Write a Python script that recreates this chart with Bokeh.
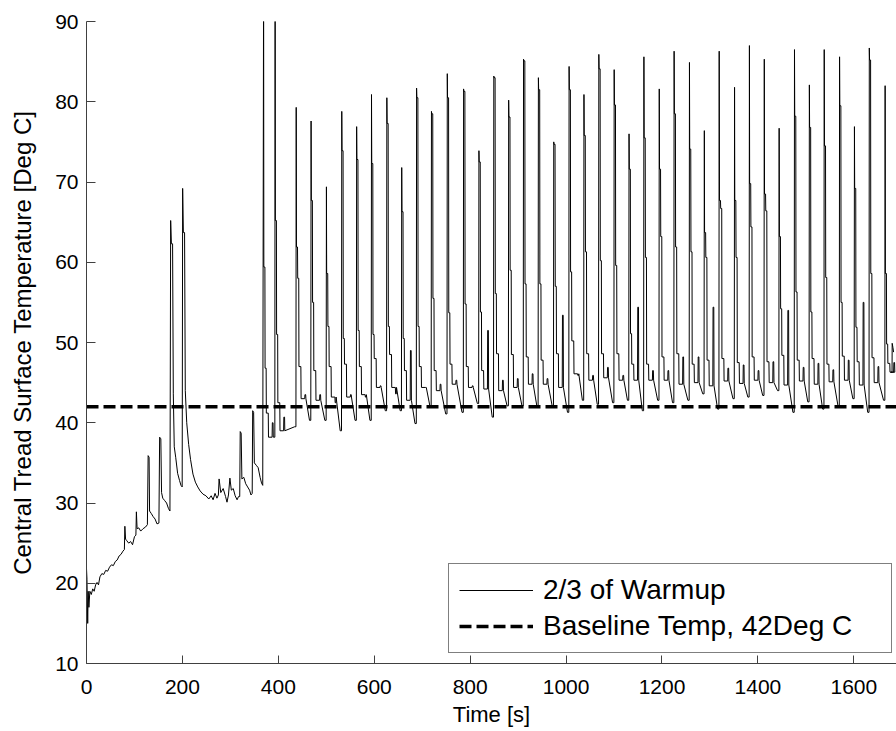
from bokeh.plotting import figure
from bokeh.models import Range1d, Legend, LegendItem, FixedTicker
from bokeh.embed import file_html
from bokeh.resources import INLINE

# ---------------- data ----------------
# warm-up part before the regular cycles (time [s], temperature [deg C])
early_time = [0, 1, 2.5, 3.5, 5, 7, 10, 13, 16, 19,
              22, 25, 28, 32, 36, 40, 44, 48, 52, 56,
              60, 64, 68, 72, 76, 79, 80, 81.5, 84, 88,
              92, 96, 100, 103, 104, 105.5, 109, 113, 118, 123,
              127, 128.5, 130.5, 131.5, 135, 139, 143, 147, 151, 152.5,
              155, 156.5, 159, 163, 167, 171, 174, 175.5, 177, 179.5,
              181, 183, 186, 190, 194, 197, 199.5, 200.5, 202, 204.5,
              206, 209, 213, 217, 222, 227, 232, 237, 243, 249,
              255, 260, 264, 268, 272, 275, 276.5, 280, 285, 290,
              293, 296, 299, 302, 306, 310, 314, 317, 319.5, 320.5,
              322.5, 324, 328, 332, 336, 340, 343, 345.5, 346.5, 348.5,
              350, 354, 358, 362, 365, 367.5]
early_temp = [21.8, 20.5, 15.0, 19.0, 17.0, 19.0, 18.6, 19.3, 19.0, 19.8,
              20.1, 19.8, 20.8, 21.2, 21.1, 21.6, 21.5, 22.0, 22.3, 22.2,
              22.7, 22.9, 23.4, 23.6, 24.0, 24.2, 27.1, 25.5, 25.3, 25.0,
              25.2, 24.8, 25.8, 26.0, 28.9, 26.8, 26.9, 26.5, 26.8, 27.0,
              27.3, 35.9, 35.7, 29.0, 28.7, 28.3, 28.0, 27.4, 27.5, 38.2,
              38.0, 31.3, 30.6, 30.3, 30.0, 29.3, 29.0, 65.2, 62.3, 62.3,
              43.6, 37.0, 35.7, 33.7, 32.8, 32.2, 32.0, 69.2, 63.7, 63.7,
              44.0, 40.0, 37.3, 35.4, 33.6, 32.6, 32.0, 31.5, 31.1, 30.9,
              30.5, 30.9, 30.4, 31.2, 30.6, 31.0, 33.0, 31.3, 31.8, 30.8,
              30.1, 31.0, 33.1, 31.6, 31.8, 30.9, 30.4, 30.8, 30.8, 38.9,
              38.7, 33.0, 33.2, 32.4, 32.0, 31.6, 31.0, 31.2, 41.5, 41.3,
              35.0, 34.7, 34.4, 33.2, 32.5, 32.2]

# regular spike cycles: start time, peak, first knee, next step, mid level,
# low level, small sub-spike, minimum just before the next spike
spike_time = [369, 393, 437, 468, 500, 532, 563, 594, 626, 657,
              688, 719, 752, 786, 818, 849, 880, 911, 942, 974,
              1006, 1037, 1068, 1100, 1131, 1162, 1194, 1225, 1257, 1288,
              1319, 1351, 1382, 1413, 1444, 1476, 1507, 1538, 1570, 1601,
              1632, 1665]
spike_peak = [97.0, 97.0, 79.3, 77.6, 69.4, 78.8, 76.9, 80.9, 80.5, 71.8,
              81.7, 78.8, 83.5, 81.6, 73.9, 83.2, 80.2, 85.3, 83.0, 75.0,
              84.4, 80.9, 85.9, 84.0, 76.0, 85.6, 81.6, 86.3, 84.9, 76.4,
              86.3, 81.8, 87.0, 85.3, 76.7, 86.5, 82.1, 86.5, 85.6, 76.9,
              86.7, 82.0]
spike_knee = [59.4, 65.2, 61.9, 67.7, 58.6, 73.9, 72.8, 72.3, 77.3, 66.3,
              80.5, 78.5, 80.5, 81.3, 72.5, 83.0, 78.1, 85.1, 81.5, 74.7,
              81.5, 75.8, 84.1, 79.6, 71.6, 75.5, 71.6, 78.5, 74.1, 63.7,
              67.7, 67.7, 69.8, 68.5, 63.2, 78.2, 76.8, 74.5, 79.5, 69.2,
              85.2, 58.6]
spike_step = [46.8, 51.0, 58.0, 55.0, 52.0, 50.5, 51.5, 51.0, 52.0, 50.5,
              52.0, 55.5, 53.7, 54.8, 53.8, 56.1, 59.0, 57.3, 57.3, 57.0,
              58.8, 61.3, 60.2, 59.6, 51.1, 60.6, 63.2, 61.9, 61.3, 60.6,
              66.7, 60.6, 64.4, 66.4, 54.2, 56.3, 53.8, 58.1, 55.0, 51.9,
              58.6, 49.8]
cycle_mid = [41.2, 42.5, 47.0, 46.5, 47.0, 47.3, 47.0, 48.0, 48.5, 46.5,
             47.0, 46.5, 47.3, 47.0, 46.5, 48.6, 48.5, 48.2, 47.8, 48.6,
             50.2, 48.6, 48.6, 48.6, 47.3, 47.3, 48.2, 48.6, 47.3, 47.8,
             48.0, 47.5, 48.2, 47.6, 48.4, 47.8, 48.0, 47.3, 48.3, 47.6,
             48.1, 47.4]
cycle_low = [38.2, 39.0, 43.0, 42.8, 43.2, 43.2, 43.5, 44.4, 44.4, 42.8,
             44.4, 44.0, 44.8, 44.4, 44.2, 44.0, 44.4, 44.8, 44.8, 44.4,
             46.1, 45.3, 45.6, 45.3, 45.3, 45.3, 45.3, 44.8, 45.0, 44.6,
             45.2, 44.9, 45.3, 45.0, 44.7, 45.2, 44.8, 45.1, 45.3, 44.7,
             45.0, 46.3]
cycle_bump = [40.0, 40.7, 43.5, 43.5, 42.5, 43.5, 43.2, 44.6, 43.6, 49.0,
              44.4, 44.8, 45.3, 44.6, 51.5, 45.3, 45.5, 46.1, 45.5, 53.4,
              45.9, 45.9, 46.9, 45.9, 54.4, 46.5, 46.5, 48.2, 48.2, 54.4,
              46.8, 47.2, 46.5, 47.6, 54.0, 46.9, 47.4, 46.6, 47.8, 55.0,
              47.0, 47.5]
cycle_dip = [38.2, 39.5, 40.3, 40.3, 39.0, 40.3, 40.3, 41.5, 41.5, 39.9,
             42.1, 41.1, 41.3, 42.4, 40.7, 42.1, 42.1, 42.1, 42.1, 41.3,
             42.8, 42.3, 42.5, 42.8, 41.5, 42.8, 42.5, 42.8, 43.6, 41.7,
             43.0, 43.2, 43.4, 44.0, 41.3, 42.6, 41.7, 42.1, 43.0, 41.3,
             42.8, 46.3]
end_time = [1680, 1681.5, 1683]
end_temp = [49.9, 49.4, 48.8]

baseline_temp = 42
x_ticks = [0, 200, 400, 600, 800, 1000, 1200, 1400, 1600]
y_ticks = [10, 20, 30, 40, 50, 60, 70, 80, 90]
X_MAX = 1689

# ---------------- assemble the trace ----------------
time = list(early_time)
temp = list(early_temp)
n = len(spike_time)
for i in range(n):
    t0 = spike_time[i]
    t1 = spike_time[i + 1] if i + 1 < n else end_time[0]
    time += [t0 + 0.3, t0 + 0.8, t0 + 3.0, t0 + 3.4, t0 + 5.6, t0 + 6.0,
             t0 + 10.0, t0 + 10.5, t0 + 18.0, t0 + 18.5, t0 + 20.0, t0 + 20.5,
             t1 - 3.0, t1 - 0.3]
    temp += [spike_peak[i], spike_knee[i], spike_knee[i], spike_step[i],
             spike_step[i], cycle_mid[i], cycle_mid[i], cycle_low[i],
             cycle_low[i], cycle_bump[i], cycle_bump[i], cycle_low[i],
             cycle_dip[i], cycle_dip[i]]
time += end_time
temp += end_temp

# ---------------- figure ----------------
FONT = "Liberation Sans"
p = figure(width=896, height=731, output_backend="svg", toolbar_location=None,
           x_range=Range1d(0, X_MAX), y_range=Range1d(10, 90),
           min_border_left=86, min_border_right=0, min_border_top=21,
           min_border_bottom=68)
p.outline_line_color = None
p.xgrid.visible = False
p.ygrid.visible = False
p.background_fill_color = "white"
p.border_fill_color = "white"

r_main = p.line(time, temp, line_color="black", line_width=1)
r_base = p.line(x=[0, X_MAX], y=[baseline_temp, baseline_temp],
                line_color="black", line_width=3.5, line_dash="12 5")

p.xaxis.ticker = FixedTicker(ticks=x_ticks)
p.yaxis.ticker = FixedTicker(ticks=y_ticks)
for ax in (p.xaxis[0], p.yaxis[0]):
    ax.axis_line_color = "#404040"
    ax.major_tick_line_color = "#404040"
    ax.major_tick_out = 0
    ax.minor_tick_line_color = None
    ax.major_label_text_font = FONT
    ax.major_label_text_font_size = "21px"
    ax.major_label_text_color = "black"
    ax.axis_label_text_font = FONT
    ax.axis_label_text_font_style = "normal"
    ax.axis_label_text_color = "black"
p.xaxis.major_tick_in = 8
p.yaxis.major_tick_in = 9
p.xaxis.axis_label = "Time [s]"
p.xaxis.axis_label_text_font_size = "22px"
p.xaxis.major_label_standoff = 16
p.xaxis.axis_label_standoff = 5
p.yaxis.axis_label = "Central Tread Surface Temperature [Deg C]"
p.yaxis.axis_label_text_font_size = "24px"
p.yaxis.major_label_standoff = 8
p.yaxis.axis_label_standoff = 16

legend = Legend(items=[LegendItem(label="2/3 of Warmup", renderers=[r_main]),
                       LegendItem(label="Baseline Temp, 42Deg C", renderers=[r_base])],
                location=(362, 10))
legend.label_text_font = FONT
legend.label_text_font_size = "28px"
legend.label_text_color = "black"
legend.glyph_width = 74
legend.glyph_height = 32
legend.label_height = 32
legend.label_width = 338
legend.label_standoff = 10
legend.spacing = 4
legend.padding = 10
legend.margin = 0
legend.border_line_color = "black"
legend.border_line_width = 1
legend.background_fill_color = "white"
legend.background_fill_alpha = 1.0
p.add_layout(legend)

open("out.html", "w").write(file_html(p, INLINE))
